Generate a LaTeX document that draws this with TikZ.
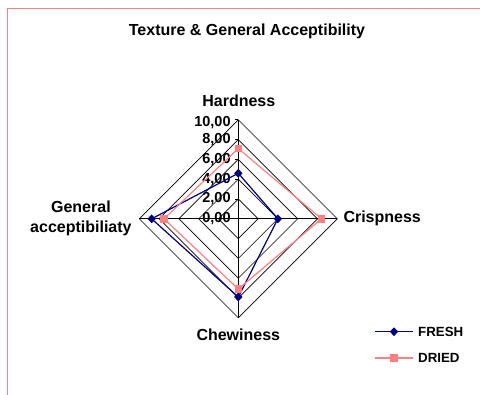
\documentclass[tikz,border=0pt]{standalone}
\usepackage{fontspec}
\setmainfont{Liberation Sans}
\usetikzlibrary{calc}
\usetikzlibrary{positioning}
\usetikzlibrary{shapes.geometric}
\definecolor{navy}{RGB}{0,0,128}
\definecolor{salmon}{RGB}{255,128,128}
\def\unit{9.9}
\tikzset{
gridline/.style={line width=0.65bp},
seriesline/.style={line width=1.2bp},
freshmark/.style={diamond,fill=navy,inner sep=0pt,minimum width=8.5bp,minimum height=9bp},
driedmark/.style={rectangle,fill=salmon,inner sep=0pt,minimum size=7.5bp},
axislabel/.style={font=\bfseries\fontsize{16bp}{20bp}\selectfont,inner sep=0pt},
ticklabel/.style={font=\bfseries\fontsize{14.5bp}{16bp}\selectfont,inner sep=0pt,anchor=east},
legendlabel/.style={font=\bfseries\fontsize{13.3bp}{15bp}\selectfont,inner sep=0pt,anchor=west},
}

\begin{document}
\begin{tikzpicture}[x=1bp,y=1bp]
\useasboundingbox (0,0) rectangle (480,394);
\clip (0,0) rectangle (480,394);
%Frame and title
\draw[salmon,line width=1bp] (7.5,-5) -- (7.5,385) -- (490,385);
\node[font=\bfseries\fontsize{16bp}{18bp}\selectfont] (title) at (247,363) {Texture \& General Acceptibility};

\begin{scope}[shift={(238.3,175.2)}]
\coordinate (c) at (0,0);
%Place the axis ends
\coordinate (h) at (90:{10*\unit});
\coordinate (r) at (0:{10*\unit});
\coordinate (w) at (270:{10*\unit});
\coordinate (g) at (180:{10*\unit});

%Grid rings
\foreach \v in {2,4,...,10} {
	\coordinate (h\v) at (90:{\v*\unit});
	\coordinate (r\v) at (0:{\v*\unit});
	\coordinate (w\v) at (270:{\v*\unit});
	\coordinate (g\v) at (180:{\v*\unit});
	\draw[gridline] (h\v) -- (r\v) -- (w\v) -- (g\v) -- cycle;
}
\draw[gridline] (h) -- (w);
\draw[gridline] (g) -- (r);
\foreach \v in {2,4,...,10} {
	\draw[gridline] (h\v) -- ++(-3,0);
}

%Tick labels
\foreach \v in {0,2,4,6,8} {
	\node[ticklabel] (t\v) at ($(c)+(-7.5,{\v*\unit})$) {\v,00};
}
\node[ticklabel] (t10) at ($(c)+(-7.5,{10*\unit-3})$) {10,00};

%Axis labels
\node[axislabel] (hardness) at ($(h)+(0.5,19)$) {Hardness};
\node[axislabel,anchor=west] (crisp) at ($(r)+(6,0)$) {Crispness};
\node[axislabel] (chew) at ($(w)+(0,-17)$) {Chewiness};
\node[axislabel,align=center,anchor=east] (general) at ($(g)+(-7.5,0.5)$) {General\\acceptibiliaty};

%FRESH series
\node[freshmark] (fh) at (90:{4.6*\unit}) {};
\node[freshmark] (fr) at (0:{4.0*\unit}) {};
\node[freshmark] (fw) at (270:{7.9*\unit}) {};
\node[freshmark] (fg) at (180:{8.75*\unit}) {};
\draw[navy,seriesline] (fh.center) -- (fr.center) -- (fw.center) -- (fg.center) -- cycle;

%DRIED series
\node[driedmark] (dh) at (90:{7.1*\unit}) {};
\node[driedmark] (dr) at (0:{8.4*\unit}) {};
\node[driedmark] (dw) at (270:{7.1*\unit}) {};
\node[driedmark] (dg) at (180:{7.5*\unit}) {};
\draw[salmon,seriesline] (dh.center) -- (dr.center) -- (dw.center) -- (dg.center) -- cycle;
\end{scope}

%Legend
\coordinate (fa) at (375,62.3);
\coordinate (fb) at (413,62.3);
\draw[navy,seriesline] (fa) -- (fb);
\node[freshmark] (fkey) at ($(fa)!0.5!(fb)$) {};
\node[legendlabel] (freshtext) at (418,62.3) {FRESH};

\coordinate (da) at (375,36);
\coordinate (db) at (413,36);
\draw[salmon,seriesline] (da) -- (db);
\node[driedmark] (dkey) at ($(da)!0.5!(db)$) {};
\node[legendlabel] (driedtext) at (418,36) {DRIED};
\end{tikzpicture}
\end{document}
